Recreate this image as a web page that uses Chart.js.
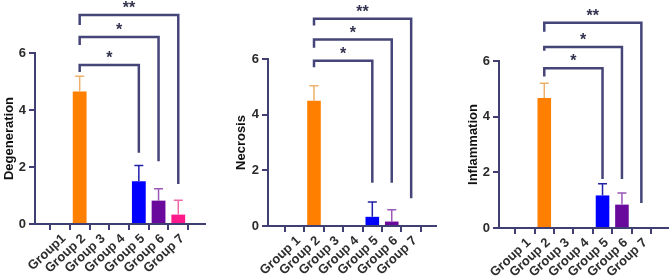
<!DOCTYPE html>
<html>
<head>
<meta charset="utf-8">
<script src="https://cdn.jsdelivr.net/npm/chart.js@4.4.0/dist/chart.umd.min.js"></script>
<style>
    body { margin: 0; background: #fff; }
    .wrap { position: relative; width: 669px; height: 279px; }
    canvas { position: absolute; top: 0; }
</style>
</head>
<body>
<div class="wrap">
    <canvas id="c1" width="223" height="279" style="left:0px"></canvas>
    <canvas id="c2" width="223" height="279" style="left:223px"></canvas>
    <canvas id="c3" width="223" height="279" style="left:446px"></canvas>
</div>
<script>
const groupsA = ["Group1", "Group 2", "Group 3", "Group 4", "Group 5", "Group 6", "Group 7"];
const groupsB = ["Group 1", "Group 2", "Group 3", "Group 4", "Group 5", "Group 6", "Group 7"];
const xTicks = [1, 2, 3, 4, 5, 6, 7];
const yTicks = [0, 2, 4, 6];

const degenMean = [0, 4.65, 0, 0, 1.5, 0.82, 0.33];
const degenErr = [0, 0.53, 0, 0, 0.55, 0.42, 0.5];
const necroMean = [0, 4.5, 0, 0, 0.33, 0.16, 0];
const necroErr = [0, 0.54, 0, 0, 0.53, 0.42, 0];
const inflamMean = [0, 4.67, 0, 0, 1.17, 0.84, 0];
const inflamErr = [0, 0.53, 0, 0, 0.42, 0.42, 0];

const barColors = ["#ff8000", "#ff8000", "#ff8000", "#ff8000", "#0000ff", "#6a0a9c", "#ff1a8c"];
const errColors = ["#eeb06a", "#eeb06a", "#eeb06a", "#eeb06a", "#2020a8", "#9a58b8", "#ec6aa8"];

// [from group, to group, bar height, left leg end, right leg end, label]
const degenSig = [[2, 5, 5.58, 5.33, 2.5, "*"], [2, 6, 6.56, 6.28, 2.2, "*"], [2, 7, 7.33, 6.98, 1.4, "**"]];
const necroSig = [[2, 5, 5.94, 5.7, 1.55, "*"], [2, 6, 6.7, 6.4, 1.55, "*"], [2, 7, 7.45, 7.2, 1.0, "**"]];
const inflamSig = [[2, 5, 5.74, 5.44, 1.76, "*"], [2, 6, 6.5, 6.37, 1.76, "*"], [2, 7, 7.37, 7.05, 0.9, "**"]];

const axisColor = "#3f3f74";
const font = "'Liberation Sans', Arial, sans-serif";

function makePanel(id, title, labels, means, errs, sigs, box) {
    const errPlugin = {
        id: "extras",
        afterDatasetsDraw(chart) {
            const x = chart.scales.x, y = chart.scales.y, ctx = chart.ctx;
            ctx.save();
            ctx.lineWidth = 1.5;
            means.forEach((m, i) => {
                if (!errs[i]) return;
                const px = x.getPixelForValue(i + 1);
                const top = y.getPixelForValue(m + errs[i]);
                ctx.strokeStyle = errColors[i];
                ctx.beginPath();
                ctx.moveTo(px, y.getPixelForValue(m));
                ctx.lineTo(px, top);
                ctx.moveTo(px - 4.5, top);
                ctx.lineTo(px + 4.5, top);
                ctx.stroke();
            });
            ctx.restore();
        },
        afterDraw(chart) {
            const x = chart.scales.x, y = chart.scales.y, ctx = chart.ctx;
            ctx.save();
            ctx.strokeStyle = "#45457a";
            ctx.lineWidth = 2.5;
            ctx.fillStyle = "#33334f";
            ctx.font = "bold 16px " + font;
            ctx.textAlign = "center";
            ctx.textBaseline = "alphabetic";
            sigs.forEach(s => {
                const x1 = x.getPixelForValue(s[0]);
                const x2 = x.getPixelForValue(s[1]);
                const h = y.getPixelForValue(s[2]);
                ctx.beginPath();
                ctx.moveTo(x1, y.getPixelForValue(s[3]));
                ctx.lineTo(x1, h);
                ctx.lineTo(x2, h);
                ctx.lineTo(x2, y.getPixelForValue(s[4]));
                ctx.stroke();
                ctx.fillText(s[5], (x1 + x2) / 2, h - 2);
            });
            ctx.restore();
        }
    };

    return new Chart(document.getElementById(id), {
        type: "bar",
        data: {
            datasets: [{
                data: means.map((v, i) => ({ x: xTicks[i], y: v })),
                backgroundColor: barColors,
                borderWidth: 0,
                barPercentage: 0.7,
                categoryPercentage: 1
            }]
        },
        options: {
            responsive: false,
            animation: false,
            devicePixelRatio: 1,
            layout: { autoPadding: false, padding: { top: box.top, right: 223 - box.right, left: 0, bottom: 0 } },
            plugins: { legend: { display: false }, tooltip: { enabled: false } },
            scales: {
                x: {
                    type: "linear",
                    min: box.xmin,
                    max: box.xmax,
                    afterFit: s => { s.height = 279 - box.bottom; },
                    afterBuildTicks: s => { s.ticks = xTicks.map(v => ({ value: v })); },
                    border: { display: true, color: axisColor, width: 2 },
                    grid: { drawOnChartArea: false, drawTicks: true, tickLength: 6, color: axisColor, lineWidth: 2 },
                    ticks: {
                        autoSkip: false,
                        minRotation: 43,
                        maxRotation: 43,
                        padding: 1,
                        labelOffset: 4,
                        color: "#2e2e2e",
                        font: { family: font, size: 13, weight: "bold" },
                        callback: v => labels[v - 1]
                    }
                },
                y: {
                    min: 0,
                    max: 6,
                    afterFit: s => { s.width = box.left; },
                    afterBuildTicks: s => { s.ticks = yTicks.map(v => ({ value: v })); },
                    border: { display: true, color: axisColor, width: 2 },
                    grid: { drawOnChartArea: false, drawTicks: true, tickLength: 6, color: axisColor, lineWidth: 2 },
                    ticks: {
                        padding: 3,
                        color: "#2a2a2a",
                        font: { family: font, size: 13, weight: "bold" }
                    },
                    title: {
                        display: true,
                        text: title,
                        color: "#111",
                        padding: { top: box.titlePad, bottom: 0 },
                        font: { family: font, size: 13, weight: "bold" }
                    }
                }
            }
        },
        plugins: [errPlugin]
    });
}

makePanel("c1", "Degeneration", groupsA, degenMean, degenErr, degenSig,
    { left: 35, right: 205, top: 53, bottom: 224, xmin: 0.35, xmax: 7.74, titlePad: 2 });
makePanel("c2", "Necrosis", groupsB, necroMean, necroErr, necroSig,
    { left: 45, right: 213, top: 59, bottom: 226, xmin: 0.25, xmax: 7.66, titlePad: 11 });
makePanel("c3", "Inflammation", groupsB, inflamMean, inflamErr, inflamSig,
    { left: 53, right: 222, top: 61, bottom: 228, xmin: 0.29, xmax: 7.75, titlePad: 20 });
</script>
</body>
</html>
